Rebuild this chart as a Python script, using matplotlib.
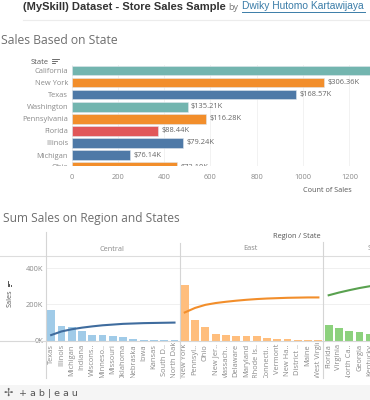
import matplotlib
matplotlib.use('Agg')
import matplotlib.pyplot as plt
from matplotlib.patches import Rectangle
from matplotlib.transforms import Bbox

W, H = 370, 400

# top chart
states = ['California', 'New York', 'Texas', 'Washington', 'Pennsylvania',
          'Florida', 'Illinois', 'Michigan', 'Ohio']
counts = [2001, 1092, 971, 501, 580, 372, 482, 251, 455]
sales_labels = ['$457.69K', '$306.36K', '$168.57K', '$135.21K', '$116.28K',
                '$88.44K', '$79.24K', '$76.14K', '$72.10K']
state_colors = ['#73B5AF', '#F28E2B', '#4E79A7', '#73B5AF', '#F28E2B',
                '#E15759', '#4E79A7', '#4E79A7', '#F28E2B']
count_ticks = [0, 200, 400, 600, 800, 1000, 1200]

# bottom chart
central = ['Texas', 'Illinois', 'Michigan', 'Indiana', 'Wiscons..', 'Minneso..',
           'Missouri', 'Oklahoma', 'Nebraska', 'Iowa', 'Kansas', 'South D..',
           'North Dakota']
east = ['New York', 'Pennsyl..', 'Ohio', 'New Jer..', 'Massach..', 'Delaware',
        'Maryland', 'Rhode Is..', 'Connecti..', 'Vermont', 'New Ha..',
        'District ..', 'Maine', 'West Virginia']
south = ['Florida', 'Virginia', 'North Ca..', 'Georgia', 'Kentucky']

central_sales = [168, 79, 76, 53, 32, 30, 23, 20, 7, 5, 3, 1, 1]
east_sales = [306, 116, 76, 35, 29, 27, 24, 23, 13, 9, 7, 3, 1, 1]
south_sales = [88, 70, 55, 49, 36]

central_line = [30, 50, 62, 71, 78, 84, 88, 92, 94, 96, 97, 98, 99]
east_line = [155, 180, 197, 207, 214, 220, 225, 229, 232, 234, 236, 237, 238, 238]
south_line = [250, 265, 278, 290, 300]

GREY = '#555555'
LIGHT = '#8a8a8a'
FONT = 'Open Sans'
SMALL = 5.4


def px_axes(fig, left, top, right, bottom):
    return fig.add_axes([left / W, 1 - bottom / H, (right - left) / W, (bottom - top) / H])


fig = plt.figure(figsize=(W / 100, H / 100), dpi=100)
plt.rcParams['font.family'] = FONT


def ftext(x, y, s, **kw):
    kw.setdefault('va', 'center')
    return fig.text(x / W, 1 - y / H, s, **kw)


# header
ftext(23, 7, '(MySkill) Dataset - Store Sales Sample', fontsize=8.0, fontweight='bold',
      color='#333333', family='Liberation Sans')
ftext(228, 7, 'by', fontsize=6.5, color='#777777')
ftext(242, 6, 'Dwiky Hutomo Kartawijaya', fontsize=7.4, color='#3A7CA8', fontweight='medium',
      family='Liberation Sans')
fig.add_artist(plt.Line2D([242 / W, 365 / W], [1 - 11.5 / H] * 2, color='#3A7CA8', lw=0.7))
fig.add_artist(plt.Line2D([23 / W, 1], [1 - 20 / H] * 2, color='#ececec', lw=0.8))

ftext(1, 41, 'Sales Based on State', fontsize=8.7, color='#6e6e6e')
ftext(31, 62, 'State', fontsize=SMALL, color=GREY)
for i, ln in enumerate([6.5, 5, 3]):
    fig.add_artist(plt.Line2D([52 / W, (52 + ln) / W], [1 - (59 + i * 2) / H] * 2, color=GREY, lw=0.6))

ax = px_axes(fig, 71.5, 65, 370, 166)
pos = list(range(len(states)))
ax.barh(pos, counts, height=0.78, color=state_colors, edgecolor='#dfe6ec', linewidth=0.4)
ax.set_ylim(7.91, -0.473)
ax.set_xlim(0, 1289)
ax.set_yticks(pos[:-1])
ax.set_yticklabels(states[:-1], fontsize=SMALL, color=LIGHT)
ax.set_xticks(count_ticks)
ax.set_xticklabels(count_ticks, fontsize=SMALL, color=LIGHT)
ax.tick_params(length=0, pad=2.5)
ax.tick_params(axis='x', pad=6)
ax.grid(axis='x', color='#f2f2f2', lw=0.7)
ax.set_axisbelow(True)
for s in ax.spines.values():
    s.set_visible(False)
# Ohio row is cut by the scroll edge of the view
ohio_label = ax.text(-0.0117, pos[-1], states[-1], transform=ax.get_yaxis_transform(), ha='right',
                     va='center', fontsize=SMALL, color=LIGHT, clip_on=True)
ohio_label.set_clip_box(Bbox([[0, H - 166], [W, H - 150]]))
for p, c, lab in zip(pos, counts, sales_labels):
    if c < 1289:
        ax.annotate(lab, (c, p), xytext=(2.5, 0), textcoords='offset points', va='center',
                    fontsize=SMALL, color='#666666', annotation_clip=False, clip_on=True)
ftext(303, 191, 'Count of Sales', fontsize=5.2, color=GREY)

# bottom chart
ftext(3, 218, 'Sum Sales on Region and States', fontsize=8.6, color='#6e6e6e')
ftext(273, 236, 'Region / State', fontsize=5.3, color=GREY)

names = central + east + south
n1, n2 = len(central), len(central) + len(east)
x1 = list(range(n1))
x2 = list(range(n1, n2))
x3 = list(range(n2, len(names)))

ax2 = px_axes(fig, 46, 256, 370, 340.5)
ax2.bar(x1, central_sales, width=0.76, color='#A0CBE8')
ax2.bar(x2, east_sales, width=0.76, color='#FFBE7D')
ax2.bar(x3, south_sales, width=0.76, color='#8CD17D')
ax2.plot(x1, central_line, color='#3F6C9E', lw=1.5)
ax2.plot(x2, east_line, color='#F28E2B', lw=1.5)
ax2.plot(x3, south_line, color='#59A14F', lw=1.5)
ax2.set_xlim(-0.5, 31.02)
ax2.set_ylim(0, 467)
ax2.set_yticks([0, 200, 400])
ax2.set_yticklabels(['0K', '200K', '400K'], fontsize=SMALL, color=LIGHT)
ax2.set_xticks([])
ax2.tick_params(length=0, pad=2)
ax2.grid(axis='y', color='#f0f0f0', lw=0.7)
ax2.set_axisbelow(True)
for s in ['top', 'right', 'left']:
    ax2.spines[s].set_visible(False)
ax2.spines['bottom'].set_color('#d8d8d8')
ax2.spines['bottom'].set_linewidth(0.8)

to_y = lambda py: (340.5 - py) / (340.5 - 256)
clip = Bbox([[0, (H - 378)], [W, (H - 343)]])
trans = ax2.get_xaxis_transform()
for i, name in enumerate(names):
    long_name = name in ('North Dakota', 'West Virginia')
    t = ax2.text(i, to_y(378 if long_name else 344), name, transform=trans, rotation=90,
                 ha='center', va='bottom' if long_name else 'top', fontsize=SMALL,
                 color=LIGHT, clip_on=True)
    t.set_clip_box(clip)

# facet headers and separators
ftext(112, 249.5, 'Central', fontsize=5.3, color=LIGHT, ha='center')
ftext(250, 248.5, 'East', fontsize=5.3, color=LIGHT, ha='center')
ftext(368, 248.5, 'South', fontsize=5.3, color=LIGHT, ha='left')
fig.add_artist(plt.Line2D([0, 1], [1 - 256 / H] * 2, color='#dddddd', lw=0.8))
for px, top in [(46, 232), (180, 243), (322.5, 242)]:
    fig.add_artist(plt.Line2D([px / W] * 2, [1 - top / H, 1 - 378 / H], color='#d5d5d5', lw=0.8))
fig.add_artist(plt.Line2D([0, 46 / W], [1 - 341 / H] * 2, color='#d8d8d8', lw=0.8))

ftext(10, 298, 'Sales', fontsize=5.2, color=GREY, rotation=90, ha='center')
for i, hh in enumerate([5, 2.5, 1.5]):
    fig.add_artist(plt.Line2D([(7.5 + i * 1.6) / W] * 2, [1 - 286 / H, 1 - (286 - hh) / H], color=GREY, lw=0.7))

# tableau footer
fig.add_artist(Rectangle((0, 0), 1, 15 / H, transform=fig.transFigure, color='#f5f5f5', lw=0))
ftext(4, 393, '\u2722', fontsize=8, color='#666666', family='DejaVu Sans')
ftext(19, 393, '+ a b | e a u', fontsize=6.8, color='#555555', family='DejaVu Sans')

fig.savefig('out.png', dpi=100)
